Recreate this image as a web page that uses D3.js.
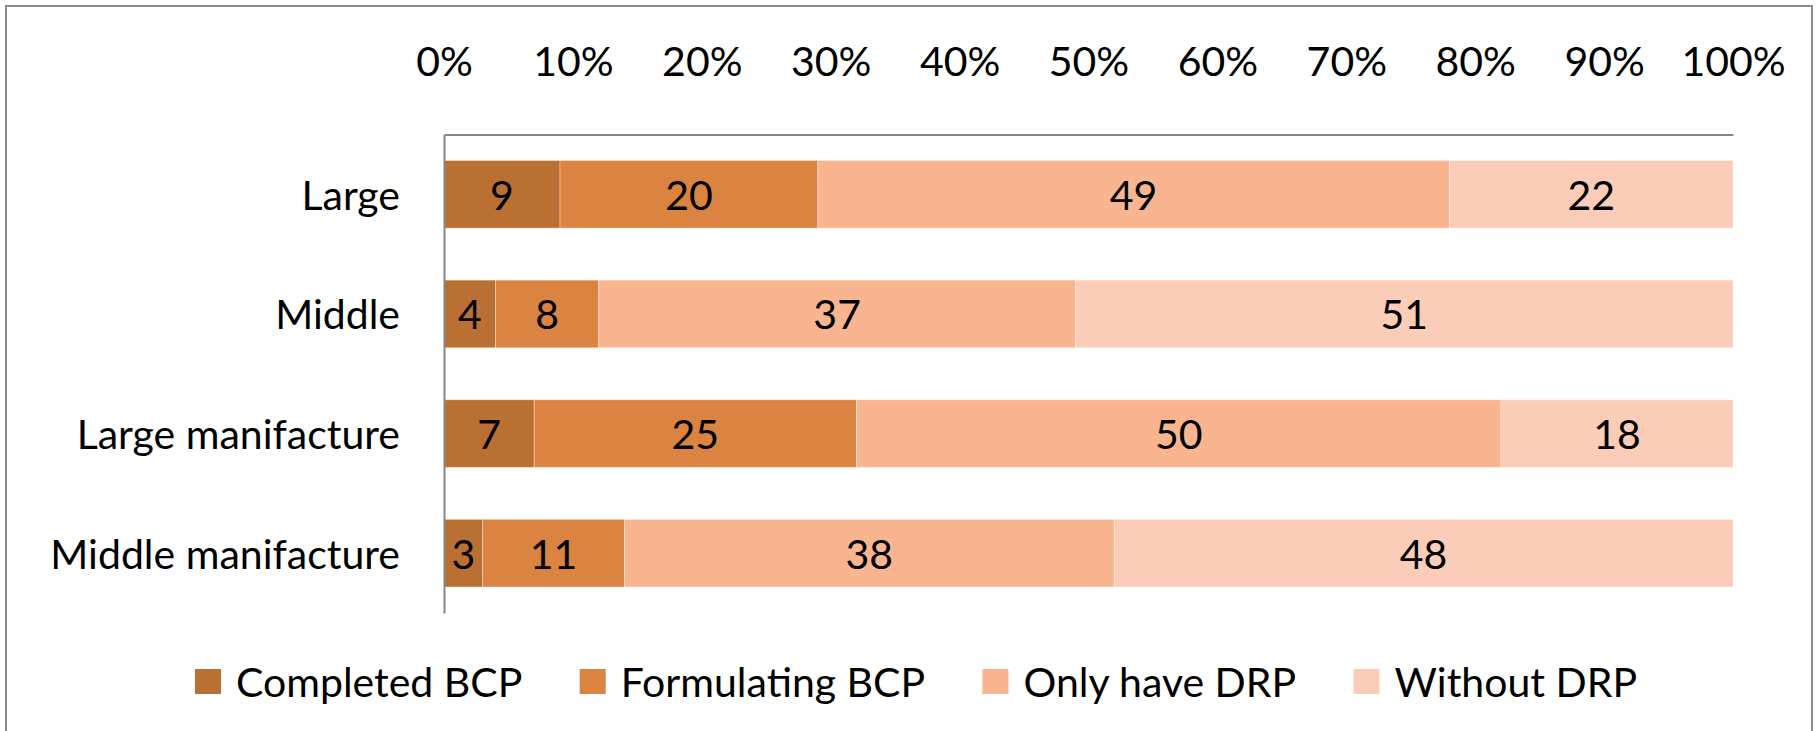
<!DOCTYPE html>
<html><head><meta charset="utf-8">
<script src="https://cdn.jsdelivr.net/npm/d3@7"></script>
<style>
html,body{margin:0;padding:0;background:#fff;}
text{font-family:Lato,"Open Sans",sans-serif;fill:#000;}
</style></head>
<body>
<svg id="chart" width="1819" height="731"></svg>
<script>
const categories = ["Large", "Middle", "Large manifacture", "Middle manifacture"];
const seriesNames = ["Completed BCP", "Formulating BCP", "Only have DRP", "Without DRP"];
const completedBCP = [9, 4, 7, 3];
const formulatingBCP = [20, 8, 25, 11];
const onlyHaveDRP = [49, 37, 50, 38];
const withoutDRP = [22, 51, 18, 48];
const tickValues = [0, 0.1, 0.2, 0.3, 0.4, 0.5, 0.6, 0.7, 0.8, 0.9, 1.0];
const colors = ["#BB7033", "#DB8340", "#F8B590", "#FBCDB9"];

const seriesValues = [completedBCP, formulatingBCP, onlyHaveDRP, withoutDRP];
const rows = categories.map((c, i) => {
  const r = {cat: c};
  seriesNames.forEach((s, j) => r[s] = seriesValues[j][i]);
  return r;
});
const totals = rows.map(r => seriesNames.reduce((a, s) => a + r[s], 0));
const pct = rows.map((r, i) => {
  const o = {cat: r.cat};
  seriesNames.forEach(s => o[s] = r[s] / totals[i]);
  return o;
});
const stack = d3.stack().keys(seriesNames)(pct);

const svg = d3.select("#chart");
const FS = 41;

// outer border
svg.append("rect").attr("x", 6).attr("y", 6).attr("width", 1806).attr("height", 740)
  .attr("fill", "none").attr("stroke", "#8c8c8c").attr("stroke-width", 2);

const x = d3.scaleLinear().domain([0, 1]).range([444, 1733]);
const y = d3.scaleBand().domain(categories).range([134.5, 613])
  .paddingInner(0.435).paddingOuter(0.2175);

// bars
const g = svg.append("g");
stack.forEach((layer, j) => {
  g.selectAll(null).data(layer).enter().append("rect")
    .attr("x", d => x(d[0]))
    .attr("y", (d, i) => y(categories[i]))
    .attr("width", d => x(d[1]) - x(d[0]))
    .attr("height", y.bandwidth())
    .attr("fill", colors[j])
    .attr("stroke", "#ffffff").attr("stroke-opacity", 0.35).attr("stroke-width", 1);
});
// data labels
stack.forEach((layer, j) => {
  g.selectAll(null).data(layer).enter().append("text")
    .attr("x", d => (x(d[0]) + x(d[1])) / 2)
    .attr("y", (d, i) => y(categories[i]) + y.bandwidth() / 2)
    .attr("text-anchor", "middle").attr("dominant-baseline", "central")
    .style("font-size", FS + "px")
    .text((d, i) => seriesValues[j][i]);
});

// top value axis
const xAxis = d3.axisTop(x).tickValues(tickValues).tickSize(0).tickPadding(0)
  .tickFormat(d3.format(".0%"));
const ax = svg.append("g").attr("transform", "translate(0,134.5)").call(xAxis);
ax.select(".domain").attr("stroke", "#868686").attr("stroke-width", 2);
ax.selectAll(".tick text").attr("y", -74).attr("dy", null)
  .attr("dominant-baseline", "central")
  .style("font-size", FS + "px").style("font-family", "Lato").attr("fill", "#000");

// left category axis
const yAxis = d3.axisLeft(y).tickSize(0).tickPadding(44);
const ay = svg.append("g").attr("transform", "translate(444,0)").call(yAxis);
ay.select(".domain").attr("stroke", "#868686").attr("stroke-width", 2);
ay.selectAll(".tick text").attr("dy", null).attr("dominant-baseline", "central")
  .style("font-size", FS + "px").style("font-family", "Lato").attr("fill", "#000");

// legend: spread between left and right extents seen in reference
const legLeft = 195, legRight = 1637;
const leg = svg.append("g");
const items = seriesNames.map((s, j) => {
  const it = leg.append("g");
  it.append("rect").attr("x", 0).attr("y", 669).attr("width", 26).attr("height", 25).attr("fill", colors[j]);
  const t = it.append("text").attr("x", 41).attr("y", 681).attr("dominant-baseline", "central")
    .style("font-size", FS + "px").text(s);
  return {it, w: 41 + t.node().getComputedTextLength()};
});
const sumW = d3.sum(items, d => d.w);
const gap = (legRight - legLeft - sumW) / (items.length - 1);
let lx = legLeft;
items.forEach(d => { d.it.attr("transform", `translate(${lx},0)`); lx += d.w + gap; });
</script>
</body></html>
